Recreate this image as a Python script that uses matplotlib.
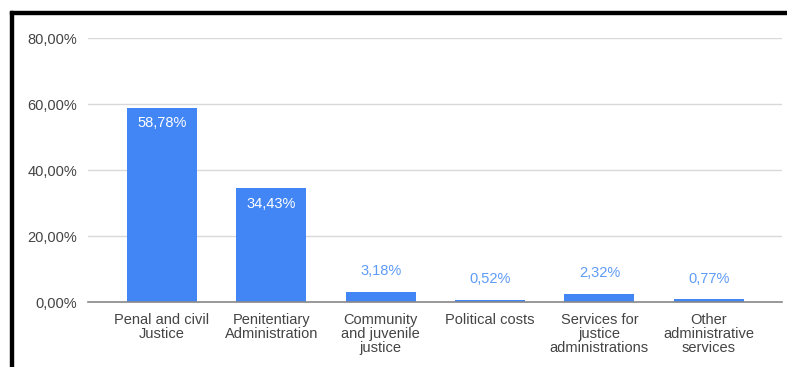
import matplotlib.pyplot as plt
from matplotlib.patches import Rectangle

# Budget share per area of justice spending
categories = [
    "Penal and civil\nJustice",
    "Penitentiary\nAdministration",
    "Community\nand juvenile\njustice",
    "Political costs",
    "Services for\njustice\nadministrations",
    "Other\nadministrative\nservices",
]
shares = [58.78, 34.43, 3.18, 0.52, 2.32, 0.77]
y_ticks = [0, 20, 40, 60, 80]

BAR_BLUE = "#4285f4"
LABEL_BLUE = "#5e9bf6"
TEXT_GREY = "#444444"

plt.rcParams["font.family"] = ["Liberation Sans", "DejaVu Sans"]

fig = plt.figure(figsize=(7.87, 3.67), dpi=100)
ax = fig.add_axes([88 / 787, 65 / 367, 694 / 787, 264 / 367])

x = list(range(len(categories)))
bars = ax.bar(x, shares, width=0.64, color=BAR_BLUE, zorder=3)

# value labels: inside the tall bars, above the short ones
for xi, v in zip(x, shares):
    label = f"{v:.2f}%".replace(".", ",")
    if v > 20:
        ax.annotate(label, (xi, v), xytext=(0, -6), textcoords="offset points",
                    ha="center", va="top", color="white", fontsize=10.5, zorder=4)
    else:
        ax.annotate(label, (xi, v), xytext=(0, 10), textcoords="offset points",
                    ha="center", va="bottom", color=LABEL_BLUE, fontsize=10.5, zorder=4)

ax.set_xlim(-0.677, 5.67)
ax.set_ylim(0, 80)
ax.set_yticks(y_ticks)
ax.set_yticklabels([f"{t:.2f}%".replace(".", ",") for t in y_ticks],
                   fontsize=10.5, color=TEXT_GREY)
ax.set_xticks(x)
ax.set_xticklabels(categories, fontsize=10.5, color=TEXT_GREY,
                   linespacing=1.0, va="top")
ax.tick_params(axis="x", length=0, pad=8)
ax.tick_params(axis="y", length=0, pad=8)

ax.grid(axis="y", color="#d9d9d9", linewidth=1, zorder=0)
for s in ["top", "right", "left"]:
    ax.spines[s].set_visible(False)
ax.spines["bottom"].set_color("#888888")
ax.spines["bottom"].set_linewidth(1.2)
ax.spines["bottom"].set_zorder(5)

# frame lines along the top and left edge of the figure
fig.patches.append(Rectangle((10 / 787, 0), 2.5 / 787, 356 / 367,
                             transform=fig.transFigure, color="black"))
fig.patches.append(Rectangle((10 / 787, 353.5 / 367), 777 / 787, 2.5 / 367,
                             transform=fig.transFigure, color="black"))

fig.savefig("out.png", dpi=100)
